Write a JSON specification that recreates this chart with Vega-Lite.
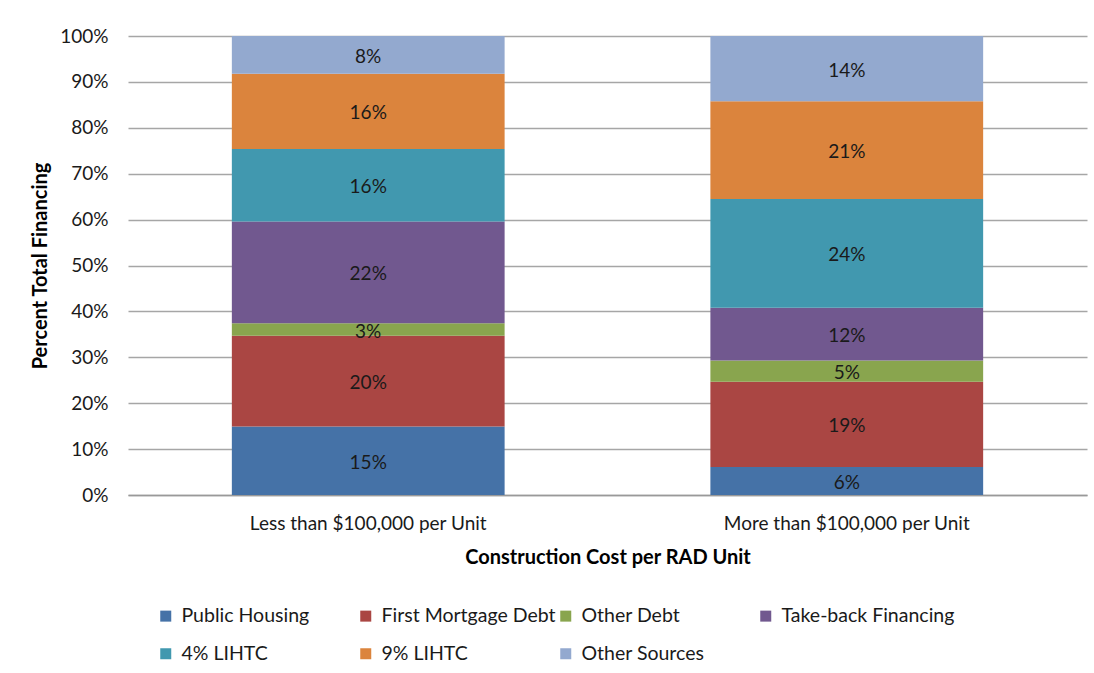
{
  "$schema": "https://vega.github.io/schema/vega-lite/v6.json",
  "autosize": "none",
  "width": 959,
  "height": 459,
  "padding": {"left": 128, "top": 36, "right": 7, "bottom": 178},
  "background": "white",
  "config": {
    "font": "Lato",
    "view": {"stroke": null}
  },
  "datasets": {
    "financing": [
      {"cost": "Less than $100,000 per Unit", "source": "Public Housing", "share": 0.149},
      {"cost": "Less than $100,000 per Unit", "source": "First Mortgage Debt", "share": 0.198},
      {"cost": "Less than $100,000 per Unit", "source": "Other Debt", "share": 0.027},
      {"cost": "Less than $100,000 per Unit", "source": "Take-back Financing", "share": 0.222},
      {"cost": "Less than $100,000 per Unit", "source": "4% LIHTC", "share": 0.158},
      {"cost": "Less than $100,000 per Unit", "source": "9% LIHTC", "share": 0.164},
      {"cost": "Less than $100,000 per Unit", "source": "Other Sources", "share": 0.082},
      {"cost": "More than $100,000 per Unit", "source": "Public Housing", "share": 0.061},
      {"cost": "More than $100,000 per Unit", "source": "First Mortgage Debt", "share": 0.186},
      {"cost": "More than $100,000 per Unit", "source": "Other Debt", "share": 0.046},
      {"cost": "More than $100,000 per Unit", "source": "Take-back Financing", "share": 0.115},
      {"cost": "More than $100,000 per Unit", "source": "4% LIHTC", "share": 0.237},
      {"cost": "More than $100,000 per Unit", "source": "9% LIHTC", "share": 0.213},
      {"cost": "More than $100,000 per Unit", "source": "Other Sources", "share": 0.142}
    ],
    "sources": [
      {"source": "Public Housing", "rank": 1},
      {"source": "First Mortgage Debt", "rank": 2},
      {"source": "Other Debt", "rank": 3},
      {"source": "Take-back Financing", "rank": 4},
      {"source": "4% LIHTC", "rank": 5},
      {"source": "9% LIHTC", "rank": 6},
      {"source": "Other Sources", "rank": 7}
    ]
  },
  "data": {"name": "financing"},
  "transform": [
    {"lookup": "source", "from": {"data": {"name": "sources"}, "key": "source", "fields": ["rank"]}}
  ],
  "encoding": {
    "x": {
      "field": "cost",
      "type": "nominal",
      "scale": {"paddingInner": 0.43, "paddingOuter": 0.217},
      "axis": {
        "title": "Construction Cost per RAD Unit",
        "titleFontSize": 20,
        "titleFontWeight": "bold",
        "titleColor": "#000000",
        "titleY": 62,
        "titleBaseline": "middle",
        "labelAngle": 0,
        "labelFontSize": 19,
        "labelLimit": 400,
        "labelColor": "#1a1a1a",
        "labelPadding": 19,
        "ticks": false,
        "domainColor": "#999999",
        "domainWidth": 1.5
      }
    },
    "y": {
      "field": "share",
      "type": "quantitative",
      "stack": "zero",
      "scale": {"domain": [0, 1]},
      "axis": {
        "title": "Percent Total Financing",
        "titleFontSize": 20,
        "titleFontWeight": "bold",
        "titleColor": "#000000",
        "titleX": -88,
        "titleBaseline": "middle",
        "format": ".0%",
        "tickCount": 10,
        "labelFontSize": 19,
        "labelColor": "#1a1a1a",
        "labelPadding": 20,
        "ticks": false,
        "domain": false,
        "gridColor": "#a6a6a6",
        "gridWidth": 1.5
      }
    },
    "order": {"field": "rank", "type": "quantitative", "sort": "ascending"},
    "color": {
      "field": "source",
      "type": "nominal",
      "sort": ["Public Housing", "First Mortgage Debt", "Other Debt", "Take-back Financing", "4% LIHTC", "9% LIHTC", "Other Sources"],
      "scale": {
        "domain": ["Public Housing", "First Mortgage Debt", "Other Debt", "Take-back Financing", "4% LIHTC", "9% LIHTC", "Other Sources"],
        "range": ["#4572A7", "#AA4643", "#89A54E", "#71588F", "#4198AF", "#DB843D", "#93A9CF"]
      },
      "legend": {
        "title": null,
        "orient": "none",
        "legendX": 28,
        "legendY": 570,
        "direction": "horizontal",
        "columns": 4,
        "gridAlign": "all",
        "symbolType": "square",
        "symbolSize": 121,
        "symbolStrokeWidth": 0,
        "labelFontSize": 19.5,
        "labelColor": "#1a1a1a",
        "labelOffset": 6,
        "labelLimit": 300,
        "columnPadding": 0,
        "rowPadding": 17,
        "padding": 0
      }
    }
  },
  "layer": [
    {
      "mark": {"type": "bar"}
    },
    {
      "mark": {"type": "text", "fontSize": 19, "dy": 2},
      "encoding": {
        "y": {"field": "share", "type": "quantitative", "stack": "zero", "bandPosition": 0.5},
        "fill": {"value": "#1a1a1a"},
        "text": {"field": "share", "type": "quantitative", "format": ".0%"}
      }
    }
  ]
}
